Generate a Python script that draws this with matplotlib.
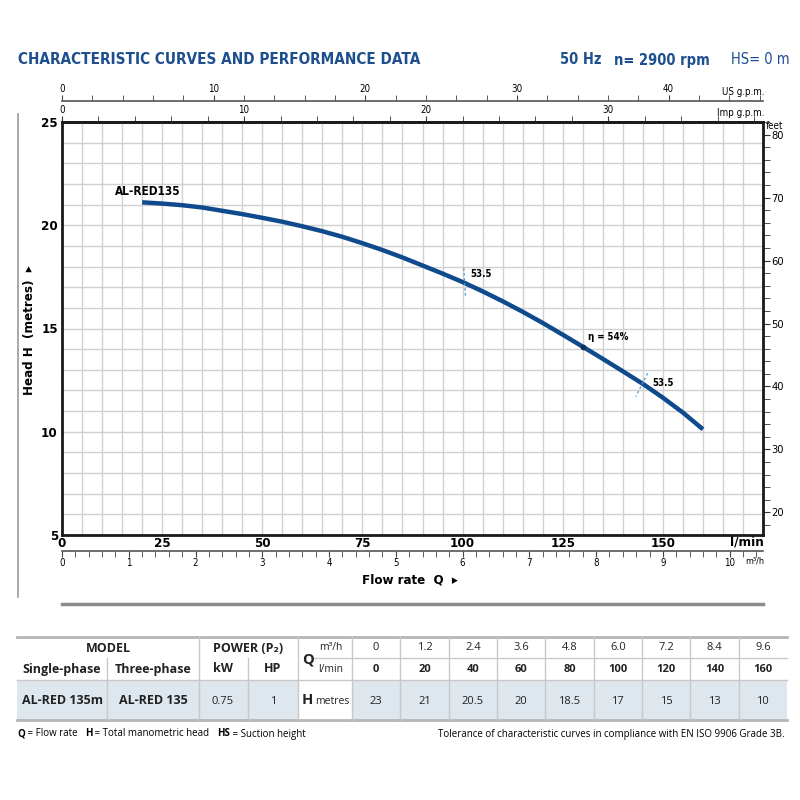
import matplotlib
matplotlib.use("Agg")
import matplotlib.pyplot as plt
from matplotlib.ticker import MultipleLocator, FixedLocator
import numpy as np

# curve (l/min, metres)
q_curve = [20, 25, 30, 35, 40, 45, 50, 55, 60, 65, 70, 75, 80, 85, 90, 95, 100,
           105, 110, 115, 120, 125, 130, 135, 140, 145, 150, 155, 160]
h_curve = [21.11, 21.05, 20.97, 20.86, 20.70, 20.54, 20.36, 20.17, 19.95, 19.71,
           19.44, 19.13, 18.80, 18.44, 18.05, 17.66, 17.25, 16.80, 16.32, 15.81,
           15.27, 14.70, 14.12, 13.53, 12.93, 12.32, 11.65, 10.93, 10.12]
best_q, best_h = 130, 14.12
iso_q = [[100.3, 100.75], [146.2, 143.25]]
iso_h = [[17.92, 16.47], [12.83, 11.70]]
iso_label = ["53.5", "53.5"]

# table
tab_m3h = ["0", "1.2", "2.4", "3.6", "4.8", "6.0", "7.2", "8.4", "9.6"]
tab_lmin = ["0", "20", "40", "60", "80", "100", "120", "140", "160"]
tab_head = ["23", "21", "20.5", "20", "18.5", "17", "15", "13", "10"]

BLUE = "#0e4a8c"
TITLE = "#1d4f8e"
TABF = ["Open Sans", "DejaVu Sans"]
plt.rcParams["font.family"] = ["DejaVu Sans"]
plt.rcParams["font.stretch"] = "condensed"

fig = plt.figure(figsize=(8, 8), dpi=100)

# overlay in pixel coords for the decorations and the table
ov = fig.add_axes([0, 0, 1, 1])
ov.set_xlim(0, 800)
ov.set_ylim(800, 0)
ov.axis("off")

ax = fig.add_axes([62 / 800, 1 - 535 / 800, (763 - 62) / 800, (535 - 122) / 800])
ax.set_xlim(0, 175)
ax.set_ylim(5, 25)
ax.set_xticks([0, 25, 50, 75, 100, 125, 150])
ax.set_yticks([5, 10, 15, 20, 25])
ax.set_xticks(np.arange(0, 176, 5), minor=True)
ax.set_yticks(np.arange(5, 26, 1), minor=True)
ax.grid(which="both", color="#d0d0d0", lw=1.0)
ax.set_axisbelow(True)
ax.tick_params(which="both", length=0)
ax.tick_params(axis="x", pad=1.5, labelsize=9.5)
ax.tick_params(axis="y", pad=3, labelsize=9.5)
for lab in ax.get_xticklabels() + ax.get_yticklabels():
    lab.set_fontweight("bold")
for s in ax.spines.values():
    s.set_color("#1a1a1a")
    s.set_linewidth(2)

ax.plot(q_curve, h_curve, color=BLUE, lw=3.2, solid_capstyle="butt", zorder=5)
ax.plot([best_q], [best_h], marker="o", ms=3, color="#0a2f5c", zorder=6)
ax.text(best_q + 1.3, best_h + 0.3, "η = 54%", fontsize=7, fontweight="bold")
for qs, hs, lab in zip(iso_q, iso_h, iso_label):
    ax.plot(qs, hs, color="#4a9ad4", lw=0.9, ls=(0, (2, 2)), zorder=6)
ax.text(102, 17.5, iso_label[0], fontsize=7, fontweight="bold")
ax.text(147.5, 12.2, iso_label[1], fontsize=7, fontweight="bold")
ax.text(13.3, 21.45, "AL-RED135", fontsize=8.5, fontweight="bold")

# secondary scales
imp = ax.secondary_xaxis("top", functions=(lambda q: q / 4.54609, lambda g: g * 4.54609))
imp.xaxis.set_major_locator(FixedLocator([0, 10, 20, 30]))
imp.xaxis.set_minor_locator(MultipleLocator(2))
imp.tick_params(which="both", direction="out", length=4, labelsize=7, pad=1, color="#333")
imp.spines["top"].set_linewidth(2)

us = ax.secondary_xaxis(1 + 21 / 413, functions=(lambda q: q / 3.78541, lambda g: g * 3.78541))
us.xaxis.set_major_locator(FixedLocator([0, 10, 20, 30, 40]))
us.xaxis.set_minor_locator(MultipleLocator(2))
us.tick_params(which="both", direction="out", length=4, labelsize=7, pad=1, color="#444")
us.spines["top"].set_color("#555")
us.spines["top"].set_linewidth(1.2)

m3 = ax.secondary_xaxis(-16 / 413, functions=(lambda q: q * 0.06, lambda m: m / 0.06))
m3.xaxis.set_major_locator(FixedLocator(np.arange(0, 11, 1)))
m3.xaxis.set_minor_locator(MultipleLocator(0.2))
m3.tick_params(which="both", direction="out", length=4, labelsize=7, pad=1, color="#444")
m3.spines["bottom"].set_color("#555")
m3.spines["bottom"].set_linewidth(1.2)

ft = ax.secondary_yaxis("right", functions=(lambda m: m / 0.3048, lambda f: f * 0.3048))
ft.yaxis.set_major_locator(FixedLocator([20, 30, 40, 50, 60, 70, 80]))
ft.yaxis.set_minor_locator(MultipleLocator(2))
ft.tick_params(which="both", direction="out", length=5, labelsize=8, pad=1, color="#333")

# axis captions
ov.text(18, 60, "CHARACTERISTIC CURVES AND PERFORMANCE DATA", fontsize=11,
        fontweight="bold", color=TITLE, va="center")
ov.text(560, 60, "50 Hz", fontsize=10.5, fontweight="bold", color=TITLE, va="center", ha="left")
ov.text(614, 60, "n= 2900 rpm", fontsize=10.5, fontweight="bold", color=TITLE, va="center", ha="left")
ov.text(790, 60, "HS= 0 m", fontsize=10.5, color=TITLE, va="center", ha="right")
ov.text(764, 92, "US g.p.m.", fontsize=7, ha="right", va="center")
ov.text(764, 113, "Imp g.p.m.", fontsize=7, ha="right", va="center")
ov.text(766, 126, "feet", fontsize=7, ha="left", va="center")
ov.text(764, 542, "l/min", fontsize=9.5, fontweight="bold", ha="right", va="center")
ov.text(764, 561, "m³/h", fontsize=6.5, ha="right", va="center")
ov.text(410, 580, "Flow rate  Q  ▸", fontsize=9.5, fontweight="bold", ha="center", va="center")
ov.text(30, 330, "Head H  (metres)  ▸", fontsize=9.5, fontweight="bold", rotation=90,
        ha="center", va="center")
ov.text(67, 522, "MEI≥ 0.40", fontsize=9, fontweight="bold", va="center",
        bbox=dict(facecolor="#dde6ee", edgecolor="none", pad=2.5))
ov.plot([18, 18], [114, 597], color="#999999", lw=1.2)
ov.plot([62, 763], [604, 604], color="#8a8a8a", lw=2.5)

# table
x0, x1 = 17, 787
ov.add_patch(plt.Rectangle((x0, 680), 298 - x0, 40, color="#dfe7ee", lw=0))
ov.add_patch(plt.Rectangle((352, 680), x1 - 352, 40, color="#dfe7ee", lw=0))
ov.plot([x0, x1], [637, 637], color="#b5b5b5", lw=2)
ov.plot([313, x1], [658, 658], color="#c8c8c8", lw=1)
ov.plot([x0, x1], [680, 680], color="#c8c8c8", lw=1)
ov.plot([x0, x1], [720, 720], color="#b5b5b5", lw=2)
for xv, ytop in [(107, 658), (199, 637), (248, 658), (298, 637), (352, 637)]:
    ov.plot([xv, xv], [ytop, 720], color="#c8c8c8", lw=1)
colw = (x1 - 352) / len(tab_m3h)
for i in range(1, len(tab_m3h)):
    xv = 352 + i * colw
    ov.plot([xv, xv], [637, 720], color="#c8c8c8", lw=1)

tkw = dict(family=TABF, stretch="normal", ha="center", va="center", color="#222")
ov.text(108, 648, "MODEL", fontsize=9, fontweight="bold", **tkw)
ov.text(248, 648, "POWER (P₂)", fontsize=9, fontweight="bold", **tkw)
ov.text(62, 669, "Single-phase", fontsize=9, fontweight="bold", **tkw)
ov.text(153, 669, "Three-phase", fontsize=9, fontweight="bold", **tkw)
ov.text(223, 669, "kW", fontsize=9, fontweight="bold", **tkw)
ov.text(273, 669, "HP", fontsize=9, fontweight="bold", **tkw)
ov.text(308, 659, "Q", fontsize=10.5, fontweight="bold", **tkw)
ov.text(331, 648, "m³/h", fontsize=7.5, **tkw)
ov.text(331, 669, "l/min", fontsize=7.5, **tkw)
ov.text(62, 701, "AL-RED 135m", fontsize=9, fontweight="bold", **tkw)
ov.text(153, 701, "AL-RED 135", fontsize=9, fontweight="bold", **tkw)
ov.text(223, 701, "0.75", fontsize=8, **tkw)
ov.text(273, 701, "1", fontsize=8, **tkw)
ov.text(307, 700, "H", fontsize=10.5, fontweight="bold", **tkw)
ov.text(332, 701, "metres", fontsize=7.5, **tkw)
for i in range(len(tab_m3h)):
    xc = 352 + (i + 0.5) * colw
    ov.text(xc, 648, tab_m3h[i], fontsize=8, **tkw)
    ov.text(xc, 669, tab_lmin[i], fontsize=8, fontweight="bold", **tkw)
    ov.text(xc, 701, tab_head[i], fontsize=8, **tkw)

# footer
parts = [("Q", "bold"), (" = Flow rate   ", "normal"), ("H", "bold"),
         (" = Total manometric head   ", "normal"), ("HS", "bold"), (" = Suction height", "normal")]
prev = ov.text(17, 734, parts[0][0], fontsize=7, fontweight=parts[0][1], family=TABF,
               stretch="normal", va="center")
for txt, w in parts[1:]:
    prev = ov.annotate(txt, xy=(1, 0.5), xycoords=prev, fontsize=7, fontweight=w,
                       family=TABF, stretch="normal", va="center", ha="left")
ov.text(785, 734, "Tolerance of characteristic curves in compliance with EN ISO 9906 Grade 3B.",
        fontsize=7, family=TABF, stretch="normal", ha="right", va="center")

fig.savefig("out.png", dpi=100)
